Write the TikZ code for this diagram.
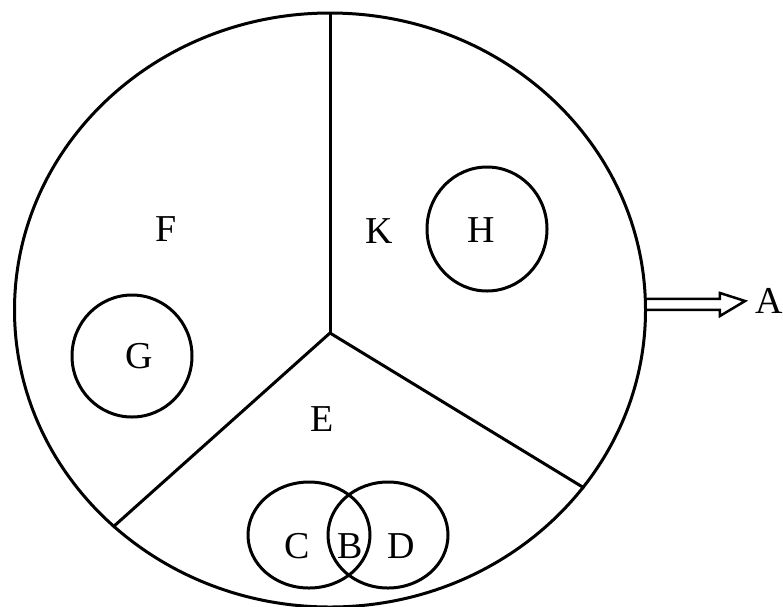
\documentclass[tikz,border=0pt]{standalone}
\usepackage{fontspec}
\setmainfont{Liberation Serif}
\usetikzlibrary{shapes.geometric,calc}
\begin{document}
\begin{tikzpicture}[x=1pt,y=-1pt,
  ln/.style={line width=3pt},
  ring/.style={draw,ln,ellipse,inner sep=0pt},
  lbl/.style={font=\fontsize{38}{42}\selectfont,inner sep=0pt}]
\useasboundingbox (0,0) rectangle (783,606);
\node[ring,minimum width=631,minimum height=594] (big) at (330,310) {};
\coordinate (o) at (330,333);
\draw[ln] (o) -- (big.north);
\draw[ln] (o) -- (big.-135.3);
\draw[ln] (o) -- (big.-35);
\node[ring,minimum width=120,minimum height=122] (g) at (132,356) {};
\node[ring,minimum width=120,minimum height=124] (h) at (487,229) {};
\node[ring,minimum width=122,minimum height=106] (c) at (309,535) {};
\node[ring,minimum width=120,minimum height=106] (d) at (388,535) {};
\node[lbl] (F) at (166,229) {F};
\node[lbl] (K) at (379,231) {K};
\node[lbl] (H) at (481,230) {H};
\node[lbl] (G) at (139,356) {G};
\node[lbl] (E) at (322,419) {E};
\node[lbl] (C) at (297,546) {C};
\node[lbl] (B) at (350,546) {B};
\node[lbl] (D) at (401,546) {D};
\node[lbl] (A) at (769,301) {A};
\coordinate (as) at (big.1.6);
\draw[ln,line width=2.5pt,line join=miter]
  ($(as)+(0,-5.5)$) -- ++(73,0) -- ++(0,-6) -- ($(A.west)+(-10,0)$)
  -- ($(as)+(73,11.5)$) -- ++(0,-6) -- ($(as)+(0,5.5)$);
\end{tikzpicture}
\end{document}
